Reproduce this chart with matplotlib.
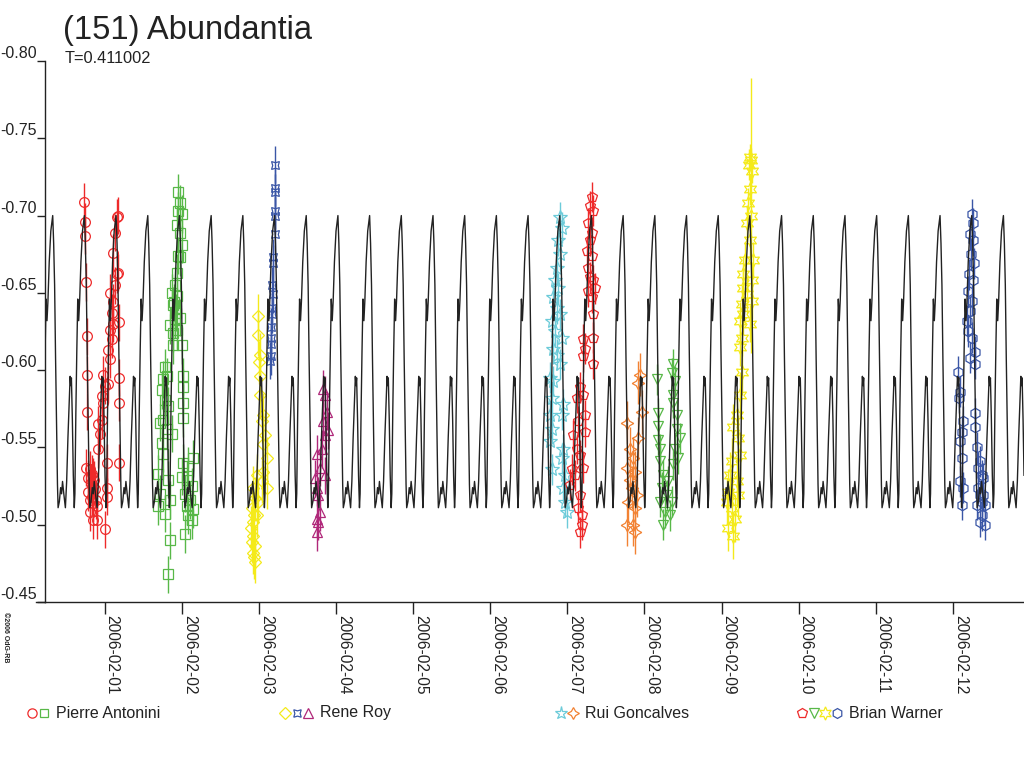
import datetime as dt
import numpy as np
import matplotlib
matplotlib.use('Agg')
import matplotlib.pyplot as plt
import matplotlib.dates as mdates
from matplotlib.lines import Line2D

plt.rcParams['font.family'] = ['Liberation Sans', 'DejaVu Sans']
plt.rcParams['axes.unicode_minus'] = False

# time is in days since 2006-02-01 00:00 UT, values are relative magnitudes
BASE = mdates.date2num(dt.datetime(2006, 2, 1))
PERIOD = 0.411002
first_peak = -0.674

# one rotation of the model light curve, phase 0 = main maximum
prof_phase = [0.00, 0.03, 0.06, 0.09, 0.12, 0.15, 0.17, 0.21, 0.25, 0.28, 0.31, 0.35,
              0.40, 0.44, 0.48, 0.52, 0.55, 0.57, 0.59, 0.62, 0.65, 0.68, 0.70, 0.73,
              0.76, 0.79, 0.82, 0.85, 0.89, 0.94]
prof_mag = [-0.700, -0.682, -0.655, -0.608, -0.568, -0.526, -0.511, -0.515, -0.524, -0.520,
            -0.528, -0.520, -0.511, -0.528, -0.556, -0.580, -0.596, -0.590, -0.595, -0.568,
            -0.532, -0.511, -0.520, -0.572, -0.612, -0.646, -0.632, -0.645, -0.670, -0.690]

# Pierre Antonini, session 1 (red circles)
pa1_t = [-0.268, -0.256, -0.256, -0.243, -0.234, -0.225, -0.225, -0.243, -0.212, -0.212,
         -0.191, -0.147, -0.191, -0.169, -0.147, -0.182, -0.156, -0.138, -0.126, -0.169,
         -0.147, -0.113, -0.104, -0.191, -0.104, 0.004, 0.026, 0.026, 0.026, -0.083,
         -0.061, -0.039, -0.083, -0.018, -0.039, 0.004, 0.047, -0.018, 0.069, 0.047,
         0.091, 0.069, 0.112, 0.091, 0.112, 0.069, 0.134, 0.156, 0.177, 0.112,
         0.134, 0.156, 0.177, 0.190, 0.190, 0.190, 0.190]
pa1_m = [-0.709, -0.696, -0.687, -0.657, -0.622, -0.597, -0.573, -0.537, -0.530, -0.521,
         -0.516, -0.503, -0.536, -0.533, -0.531, -0.527, -0.525, -0.529, -0.523, -0.518,
         -0.514, -0.516, -0.512, -0.508, -0.503, -0.497, -0.524, -0.518, -0.540, -0.549,
         -0.559, -0.568, -0.565, -0.579, -0.583, -0.590, -0.591, -0.597, -0.607, -0.613,
         -0.620, -0.626, -0.630, -0.637, -0.644, -0.650, -0.655, -0.662, -0.663, -0.676,
         -0.689, -0.699, -0.700, -0.631, -0.595, -0.579, -0.540]

# Pierre Antonini, session 2 (green squares)
pa2_t = [0.955, 0.977, 0.955, 0.999, 0.934, 0.977, 0.999, 0.955, 0.977, 0.934,
         0.912, 0.934, 0.890, 0.977, 0.912, 0.934, 0.890, 0.999, 0.869, 0.899,
         0.925, 0.847, 0.882, 1.020, 1.012, 1.020, 1.020, 0.782, 0.760, 0.804,
         0.739, 0.782, 0.825, 0.760, 0.717, 0.804, 0.869, 0.739, 0.760, 0.695,
         0.825, 0.717, 0.847, 0.695, 0.782, 0.847, 0.825, 1.020, 1.084, 1.149,
         0.999, 1.063, 1.128, 1.042, 1.106, 1.063, 1.149, 1.084, 1.128, 1.042]
pa2_m = [-0.715, -0.708, -0.703, -0.701, -0.694, -0.689, -0.681, -0.674, -0.673, -0.663,
         -0.655, -0.648, -0.642, -0.634, -0.633, -0.626, -0.616, -0.616, -0.650, -0.644,
         -0.637, -0.629, -0.624, -0.596, -0.589, -0.579, -0.569, -0.602, -0.594, -0.596,
         -0.587, -0.581, -0.577, -0.568, -0.566, -0.562, -0.559, -0.553, -0.546, -0.533,
         -0.529, -0.520, -0.516, -0.512, -0.507, -0.490, -0.468, -0.540, -0.538, -0.543,
         -0.531, -0.529, -0.525, -0.520, -0.516, -0.512, -0.510, -0.506, -0.503, -0.494]

# Rene Roy (yellow diamonds, blue stars, magenta triangles)
rr1_t = [1.993, 1.993, 2.014, 2.005, 2.014, 2.014, 2.057, 2.036, 2.079, 2.057,
         2.101, 2.057, 2.101, 2.036, 1.971, 1.928, 1.949, 1.906, 1.936, 1.918,
         1.893, 1.928, 1.906, 1.949, 1.918, 1.936, 1.953, 1.979, 1.993]
rr1_m = [-0.635, -0.623, -0.610, -0.605, -0.596, -0.584, -0.571, -0.567, -0.558, -0.552,
         -0.543, -0.534, -0.524, -0.528, -0.532, -0.524, -0.517, -0.511, -0.506, -0.502,
         -0.498, -0.493, -0.489, -0.486, -0.482, -0.479, -0.476, -0.506, -0.515]
rr2_t = [2.213, 2.209, 2.211, 2.209, 2.205, 2.209, 2.187, 2.179, 2.187, 2.166,
         2.170, 2.153, 2.153, 2.153, 2.144, 2.175, 2.160]
rr2_m = [-0.733, -0.718, -0.715, -0.703, -0.700, -0.688, -0.673, -0.669, -0.649, -0.640,
         -0.636, -0.621, -0.617, -0.609, -0.606, -0.655, -0.628]
rr3_t = [2.836, 2.857, 2.879, 2.836, 2.857, 2.901, 2.814, 2.749, 2.792, 2.728,
         2.749, 2.771, 2.792, 2.749, 2.758, 2.771, 2.857]
rr3_m = [-0.588, -0.584, -0.573, -0.567, -0.558, -0.561, -0.549, -0.546, -0.537, -0.530,
         -0.524, -0.519, -0.508, -0.504, -0.495, -0.502, -0.532]

# Rui Goncalves (cyan stars, orange four-point stars)
rg1_t = [5.905, 5.927, 5.884, 5.905, 5.862, 5.840, 5.884, 5.819, 5.862, 5.905,
         5.797, 5.840, 5.927, 5.819, 5.862, 5.905, 5.776, 5.819, 5.797, 5.949,
         5.776, 5.927, 5.797, 5.776, 5.949, 5.927, 5.797, 5.970, 5.949, 5.970, 5.992]
rg1_m = [-0.699, -0.692, -0.684, -0.675, -0.666, -0.658, -0.653, -0.647, -0.640, -0.636,
         -0.632, -0.625, -0.621, -0.614, -0.610, -0.604, -0.595, -0.593, -0.582, -0.578,
         -0.571, -0.571, -0.562, -0.554, -0.549, -0.543, -0.536, -0.532, -0.524, -0.515, -0.508]
rg2_t = [6.943, 6.921, 6.770, 6.965, 6.921, 6.813, 6.857, 6.770, 6.878, 6.813,
         6.835, 6.900, 6.792, 6.878, 6.770, 6.857, 6.878]
rg2_m = [-0.597, -0.592, -0.566, -0.573, -0.556, -0.549, -0.543, -0.537, -0.534, -0.529,
         -0.524, -0.519, -0.515, -0.511, -0.500, -0.500, -0.495]

# Brian Warner (red pentagons, green triangles, yellow six-point stars, blue hexagons)
bw1_t = [6.316, 6.295, 6.338, 6.273, 6.316, 6.295, 6.251, 6.316, 6.273, 6.295,
         6.338, 6.273, 6.316, 6.359, 6.338, 6.208, 6.338, 6.230, 6.208, 6.338,
         6.165, 6.208, 6.122, 6.230, 6.143, 6.078, 6.230, 6.122, 6.165, 6.057,
         6.208, 6.100, 6.035, 6.165, 6.143, 6.186, 6.165, 6.186]
bw1_m = [-0.712, -0.706, -0.703, -0.695, -0.689, -0.684, -0.677, -0.674, -0.666, -0.660,
         -0.658, -0.651, -0.647, -0.653, -0.636, -0.620, -0.621, -0.614, -0.609, -0.604,
         -0.589, -0.584, -0.582, -0.571, -0.567, -0.558, -0.560, -0.549, -0.545, -0.536,
         -0.537, -0.532, -0.526, -0.519, -0.511, -0.506, -0.495, -0.500]
bw2_t = [7.159, 7.375, 7.354, 7.397, 7.375, 7.181, 7.375, 7.418, 7.181, 7.418,
         7.181, 7.462, 7.202, 7.397, 7.440, 7.202, 7.375, 7.245, 7.310, 7.224,
         7.289, 7.202, 7.354, 7.267, 7.332, 7.245]
bw2_m = [-0.594, -0.604, -0.598, -0.593, -0.584, -0.572, -0.579, -0.571, -0.564, -0.562,
         -0.555, -0.556, -0.549, -0.549, -0.543, -0.541, -0.539, -0.532, -0.528, -0.524,
         -0.519, -0.515, -0.515, -0.508, -0.506, -0.500]
bw3_t = [8.370, 8.378, 8.361, 8.391, 8.370, 8.348, 8.327, 8.370, 8.305, 8.413,
         8.283, 8.391, 8.275, 8.327, 8.262, 8.391, 8.283, 8.240, 8.370, 8.262,
         8.240, 8.378, 8.262, 8.240, 8.197, 8.153, 8.218, 8.132, 8.240, 8.110,
         8.197, 8.089, 8.218, 8.067, 8.132, 8.175, 8.089, 8.153]
bw3_m = [-0.738, -0.736, -0.733, -0.729, -0.717, -0.708, -0.695, -0.684, -0.671, -0.671,
         -0.662, -0.658, -0.653, -0.649, -0.643, -0.645, -0.636, -0.632, -0.630, -0.621,
         -0.615, -0.700, -0.599, -0.584, -0.571, -0.563, -0.556, -0.541, -0.545, -0.532,
         -0.528, -0.521, -0.519, -0.515, -0.511, -0.504, -0.498, -0.493]
bw3_e = [0.008, 0.008, 0.010, 0.008, 0.010, 0.010, 0.012, 0.012, 0.012, 0.012,
         0.012, 0.012, 0.012, 0.012, 0.012, 0.012, 0.012, 0.012, 0.012, 0.012,
         0.012, 0.089, 0.015, 0.015, 0.015, 0.015, 0.015, 0.015, 0.015, 0.015,
         0.015, 0.015, 0.015, 0.015, 0.015, 0.015, 0.015, 0.015]
bw4_t = [11.245, 11.266, 11.223, 11.258, 11.232, 11.275, 11.215, 11.266, 11.202, 11.245,
         11.223, 11.180, 11.202, 11.245, 11.288, 11.223, 11.288, 11.072, 11.093, 11.085,
         11.137, 11.115, 11.093, 11.115, 11.093, 11.137, 11.115, 11.288, 11.288, 11.310,
         11.353, 11.375, 11.331, 11.396, 11.310, 11.418, 11.375, 11.418, 11.353, 11.331,
         11.396, 11.353, 11.375]
bw4_m = [-0.701, -0.695, -0.688, -0.684, -0.675, -0.669, -0.662, -0.658, -0.651, -0.645,
         -0.638, -0.632, -0.625, -0.621, -0.612, -0.608, -0.604, -0.599, -0.586, -0.582,
         -0.567, -0.560, -0.554, -0.543, -0.528, -0.524, -0.513, -0.572, -0.563, -0.550,
         -0.541, -0.532, -0.524, -0.519, -0.513, -0.513, -0.506, -0.500, -0.502, -0.537,
         -0.530, -0.519, -0.515]

RED, GREEN, YELLOW, BLUE = '#ee2a2a', '#58b848', '#f4ea1a', '#3a56a6'
MAGENTA, CYAN, ORANGE = '#b0287a', '#6ccbd9', '#f28233'
STAR4_X = (4, 1, 45)
STAR4 = (4, 1, 0)
STAR6 = (6, 1, 0)

# marker size per symbol, stars drawn a bit bigger so they read like the others
MSIZE = {'o': 7, 's': 6.5, 'D': 6, '^': 7, 'v': 7, 'p': 7.5, 'h': 7.5, '*': 10,
         STAR4_X: 8, STAR4: 9, STAR6: 10}

series = [
    (pa1_t, pa1_m, 0.012, RED, 'o'),
    (pa2_t, pa2_m, 0.012, GREEN, 's'),
    (rr1_t, rr1_m, 0.014, YELLOW, 'D'),
    (rr2_t, rr2_m, 0.012, BLUE, STAR4_X),
    (rr3_t, rr3_m, 0.012, MAGENTA, '^'),
    (rg1_t, rg1_m, 0.010, CYAN, '*'),
    (rg2_t, rg2_m, 0.014, ORANGE, STAR4),
    (bw1_t, bw1_m, 0.010, RED, 'p'),
    (bw2_t, bw2_m, 0.010, GREEN, 'v'),
    (bw3_t, bw3_m, bw3_e, YELLOW, STAR6),
    (bw4_t, bw4_m, 0.010, BLUE, 'h'),
]

legend_rows = [
    ('Pierre Antonini', [(RED, 'o'), (GREEN, 's')], 32),
    ('Rene Roy', [(YELLOW, 'D'), (BLUE, STAR4_X), (MAGENTA, '^')], 285),
    ('Rui Goncalves', [(CYAN, '*'), (ORANGE, STAR4)], 561),
    ('Brian Warner', [(RED, 'p'), (GREEN, 'v'), (YELLOW, STAR6), (BLUE, 'h')], 802),
]

W, H = 1024, 768
AXCOL = '#222222'
fig = plt.figure(figsize=(W / 100, H / 100), dpi=100, facecolor='white')
ax = fig.add_axes([45 / W, (H - 602) / H, (W - 45) / W, (602 - 61) / H])

for t, m, e, c, mk in series:
    ax.errorbar(BASE + np.array(t), m, yerr=e, fmt='none', ecolor=c, elinewidth=1, capsize=0, zorder=2)
    ax.plot(BASE + np.array(t), m, ls='none', marker=mk, ms=MSIZE[mk], mfc='none', mec=c,
            mew=0.9, zorder=2)

# model curve: the single rotation profile repeated at the period
n_rot = 34
starts = first_peak + PERIOD * np.arange(-2, n_rot - 2)
model_t = (starts[:, None] + PERIOD * np.array(prof_phase)[None, :]).ravel()
model_m = np.tile(prof_mag, n_rot)
ax.plot(BASE + model_t, model_m, color=AXCOL, lw=1.0, zorder=3)

ax.set_xlim(BASE - 0.774, BASE + 11.923)
ax.set_ylim(-0.45, -0.80)
ax.set_yticks(np.arange(-0.80, -0.449, 0.05))
ax.yaxis.set_major_formatter(matplotlib.ticker.FormatStrFormatter('%.2f'))
ax.xaxis.set_major_locator(mdates.DayLocator())
ax.xaxis.set_major_formatter(mdates.DateFormatter('%Y-%m-%d'))

for side in ['top', 'right']:
    ax.spines[side].set_visible(False)
for side in ['left', 'bottom']:
    ax.spines[side].set_color(AXCOL)
    ax.spines[side].set_linewidth(1.0)

ax.tick_params(axis='x', direction='out', length=8.6, width=1, color=AXCOL, pad=1,
               labelsize=11.2, labelcolor=AXCOL)
ax.tick_params(axis='y', direction='out', length=5.8, width=1, color=AXCOL, pad=0,
               labelsize=11.5, labelcolor=AXCOL)
for lab in ax.get_xticklabels():
    lab.set_rotation(270)
    lab.set_ha('left')
    lab.set_va('top')
for lab in ax.get_yticklabels():
    lab.set_va('bottom')

# x axis line runs a little past the y axis
fig.add_artist(Line2D([36 / W, 45 / W], [(H - 602) / H] * 2, color=AXCOL, lw=1.0))

fig.text(63 / W, 1 - 39 / H, '(151) Abundantia', fontsize=23.5, color=AXCOL, va='baseline')
fig.text(65 / W, 1 - 63 / H, 'T=0.411002', fontsize=11.8, color=AXCOL, va='baseline')
fig.text(2 / W, 1 - 612 / H, '\u00a92006 OdG-RB', fontsize=5, fontweight='bold', color=AXCOL,
         rotation=270, ha='left', va='top')

ly = 1 - 713 / H
for name, marks, x0 in legend_rows:
    for i, (c, mk) in enumerate(marks):
        fig.add_artist(Line2D([(x0 + 11.5 * i) / W], [ly], ls='none', marker=mk,
                              ms=MSIZE[mk] * 0.95, mfc='none', mec=c, mew=0.9))
    fig.text((x0 + 11.5 * len(marks) + 1) / W, ly, name, fontsize=11.5, color=AXCOL, va='center')

fig.savefig('out.png', dpi=100, facecolor='white')
